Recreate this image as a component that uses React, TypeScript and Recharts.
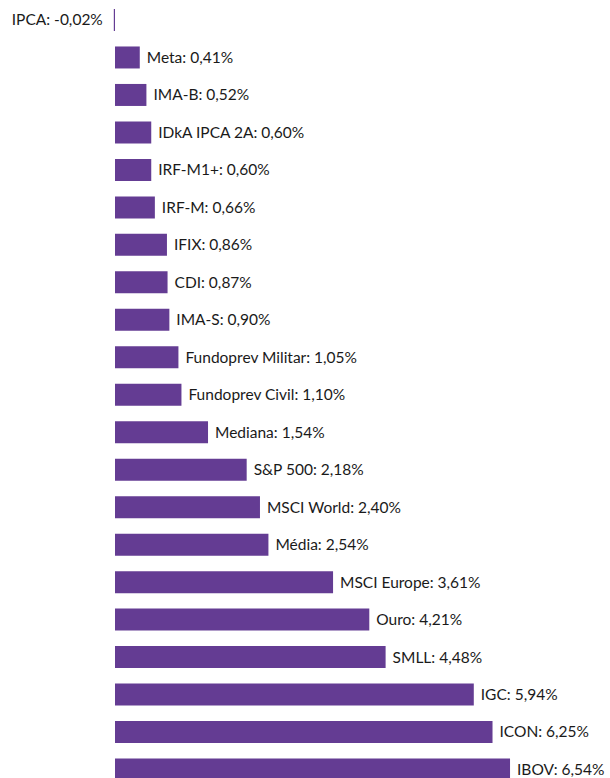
import React from 'react';
import { BarChart, Bar, XAxis, YAxis, LabelList } from 'recharts';

const names = [
  'IPCA', 'Meta', 'IMA-B', 'IDkA IPCA 2A', 'IRF-M1+', 'IRF-M', 'IFIX', 'CDI', 'IMA-S',
  'Fundoprev Militar', 'Fundoprev Civil', 'Mediana', 'S&P 500', 'MSCI World', 'Média',
  'MSCI Europe', 'Ouro', 'SMLL', 'IGC', 'ICON', 'IBOV',
];
const values = [
  -0.02, 0.41, 0.52, 0.6, 0.6, 0.66, 0.86, 0.87, 0.9,
  1.05, 1.1, 1.54, 2.18, 2.4, 2.54,
  3.61, 4.21, 4.48, 5.94, 6.25, 6.54,
];

const data = names.map((name, i) => ({ name, value: values[i] }));

const fmt = (v: number) => v.toFixed(2).replace('.', ',') + '%';

const renderLabel = (props: any) => {
  const { x, y, width, height, index } = props;
  const d = data[index];
  const x0 = Number(x);
  const w = Number(width);
  const cy = Number(y) + Number(height) / 2;
  const text = `${d.name}: ${fmt(d.value)}`;
  const common = { fontFamily: 'Lato', fontSize: 15.5, fontWeight: 400, fill: '#1a1a1a' };
  if (d.value < 0) {
    const left = Math.min(x0, x0 + w);
    return (
      <text x={left - 11} y={cy} dy="0.35em" textAnchor="end" {...common}>
        {text}
      </text>
    );
  }
  const right = Math.max(x0, x0 + w);
  return (
    <text x={right + 7} y={cy} dy="0.35em" textAnchor="start" {...common}>
      {text}
    </text>
  );
};

export default function App() {
  return (
    <div style={{ position: 'fixed', left: 0, top: 0, width: 610, height: 778, overflow: 'hidden', background: '#fff' }}>
      <BarChart
        width={610}
        height={788}
        data={data}
        layout="vertical"
        margin={{ top: 1, right: 0, bottom: 0, left: 0 }}
      >
        <XAxis type="number" hide domain={[-1.904, 8.195]} allowDataOverflow />
        <YAxis type="category" dataKey="name" hide />
        <Bar dataKey="value" fill="#643c93" barSize={22} isAnimationActive={false}>
          <LabelList dataKey="value" content={renderLabel} />
        </Bar>
      </BarChart>
    </div>
  );
}
